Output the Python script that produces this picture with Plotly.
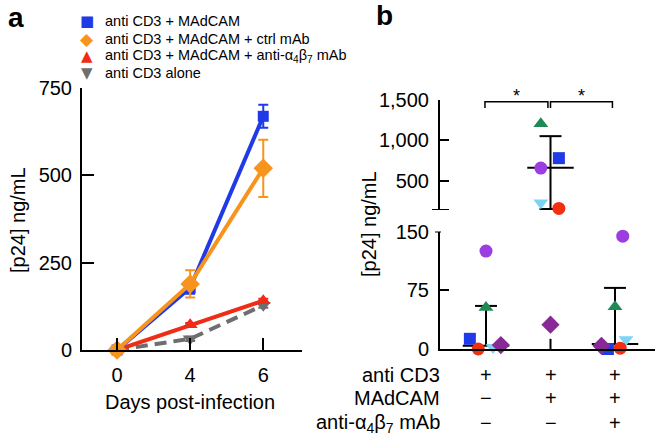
import plotly.graph_objects as go

W, H = 663, 446
FONT = "Liberation Sans, Arial, sans-serif"
SYMFONT = "DejaVu Sans"

# ---------------- data: panel a ----------------
days = ["0", "4", "6"]
series_names = [
    "anti CD3 + MAdCAM",
    "anti CD3 + MAdCAM + ctrl mAb",
    "anti CD3 + MAdCAM + anti-α<sub>4</sub>β<sub>7</sub> mAb",
    "anti CD3 alone",
]
blue_vals = [0, 178, 669]
blue_err = [0, 17, 33]
orange_vals = [0, 189, 520]
orange_err = [0, 39, 82]
red_vals = [0, 72, 141]
red_err = [0, 5, 6]
gray_vals = [0, 32, 128]
gray_err = [0, 6, 7]
a_yticks = [0, 250, 500, 750]

# ---------------- data: panel b ----------------
groups = [0, 1, 2]
donor_blue_sq = [13, 781, 0]
donor_green_tri = [53, 1206, 54]
donor_purple_circ = [125, 658, 144]
donor_red_circ = [0, 160, 1]
donor_lblue_tri = [2, 230, 12]
donor_diamond = [5, 31, 4]
group_center = [4, 662, 6.5]
group_hi = [55, 1053, 78]
group_lo = [None, 152, None]
group2_low_stub = [0, 13]
b_low_ticks = [0, 75, 150]
b_high_ticks = [500, 1000, 1500]
b_high_ticktext = ["500", "1,000", "1,500"]
row_labels = ["anti CD3", "MAdCAM", "anti-α<sub>4</sub>β<sub>7</sub> mAb"]
row_signs = [["+", "+", "+"], ["−", "+", "+"], ["−", "−", "+"]]
BREAK = 150  # values above go on the upper segment

# per-donor horizontal jitter (style)
jitter = {
    "blue": [-0.25, 0.13, -0.11],
    "green": [0.0, -0.15, 0.0],
    "purple": [0.0, -0.15, 0.12],
    "red": [-0.12, 0.13, 0.08],
    "lblue": [0.11, -0.15, 0.17],
    "diamond": [0.23, 0.0, -0.21],
}

C_BLUE = "#1f3ae6"
C_ORANGE = "#f7941d"
C_RED = "#f02c17"
C_GRAY = "#6e6e6e"

fig = go.Figure()

# ---------- panel a traces (drawn order: gray, red, blue, orange) ----------
specs_a = [
    (gray_vals, gray_err, C_GRAY, "triangle-down", 13, "12px,7px"),
    (red_vals, red_err, C_RED, "triangle-up", 13, "solid"),
    (blue_vals, blue_err, C_BLUE, "square", 11, "solid"),
    (orange_vals, orange_err, C_ORANGE, "diamond", 15, "solid"),
]
for vals, err, col, sym, sz, dash in specs_a:
    fig.add_trace(go.Scatter(
        x=days, y=vals, mode="lines+markers",
        line=dict(color=col, width=4, dash=dash),
        marker=dict(color=col, symbol=sym, size=sz),
        error_y=dict(type="data", array=err, color=col, thickness=2, width=5),
        cliponaxis=False, showlegend=False, xaxis="x", yaxis="y"))

# ---------- panel b summary lines ----------
HW, CAP = 0.36, 0.17
lowx, lowy, hix, hiy = [], [], [], []
def seg(xs, ys, x0, y0, x1, y1):
    xs += [x0, x1, None]
    ys += [y0, y1, None]
for g, c, hi, lo in zip(groups, group_center, group_hi, group_lo):
    tx, ty = (hix, hiy) if c > BREAK else (lowx, lowy)
    seg(tx, ty, g - HW, c, g + HW, c)
    seg(tx, ty, g, c, g, hi)
    seg(tx, ty, g - CAP, hi, g + CAP, hi)
    if lo is not None:
        seg(tx, ty, g, c, g, lo)
        seg(tx, ty, g - CAP, lo, g + CAP, lo)
seg(lowx, lowy, groups[1], group2_low_stub[0], groups[1], group2_low_stub[1])

fig.add_trace(go.Scatter(x=lowx, y=lowy, mode="lines", line=dict(color="black", width=2),
                         showlegend=False, xaxis="x2", yaxis="y2", cliponaxis=False))
fig.add_trace(go.Scatter(x=hix, y=hiy, mode="lines", line=dict(color="black", width=2),
                         showlegend=False, xaxis="x3", yaxis="y3", cliponaxis=False))

# ---------- panel b donor points ----------
donors = [
    ("blue", donor_blue_sq, C_BLUE, "square", 12),
    ("lblue", donor_lblue_tri, "#7dd3f3", "triangle-down", 13),
    ("diamond", donor_diamond, "#882a96", "diamond", 14),
    ("green", donor_green_tri, "#1f8a55", "triangle-up", 13),
    ("red", donor_red_circ, "#f03010", "circle", 13),
    ("purple", donor_purple_circ, "#9b3de0", "circle", 13),
]
for key, vals, col, sym, sz in donors:
    lx, ly, ux, uy = [], [], [], []
    for g, v, j in zip(groups, vals, jitter[key]):
        if v > BREAK:
            ux.append(g + j); uy.append(v)
        else:
            lx.append(g + j); ly.append(v)
    m = dict(color=col, symbol=sym, size=sz)
    if lx:
        fig.add_trace(go.Scatter(x=lx, y=ly, mode="markers", marker=m, showlegend=False,
                                 xaxis="x2", yaxis="y2", cliponaxis=False))
    if ux:
        fig.add_trace(go.Scatter(x=ux, y=uy, mode="markers", marker=m, showlegend=False,
                                 xaxis="x3", yaxis="y3", cliponaxis=False))

# ---------- layout ----------
def px_x(p): return p / W
def px_y(p): return 1 - p / H

axis_common = dict(showgrid=False, zeroline=False, showline=True, linecolor="black",
                   linewidth=2, tickcolor="black", tickwidth=2,
                   tickfont=dict(family=FONT, size=20, color="black"))

XR_B = [-0.713, 2.62]
fig.update_layout(
    width=W, height=H, margin=dict(l=0, r=0, t=0, b=0, autoexpand=False),
    paper_bgcolor="white", plot_bgcolor="white", showlegend=False,
    font=dict(family=FONT, color="black"),
    xaxis=dict(domain=[px_x(82), px_x(302)], type="category", range=[-0.48, 2.53],
               ticks="inside", ticklen=12, anchor="y", ticklabelstandoff=6, **axis_common),
    yaxis=dict(domain=[px_y(350), px_y(88)], range=[0, 750], tickvals=a_yticks,
               ticks="inside", ticklen=12, anchor="x", ticklabelstandoff=4, **axis_common),
    xaxis2=dict(domain=[px_x(440), px_x(655)], range=XR_B, showticklabels=False,
                ticks="", anchor="y2", **axis_common),
    yaxis2=dict(domain=[px_y(349), px_y(231.5)], range=[0, 150], tickvals=b_low_ticks,
                ticks="inside", ticklen=9, anchor="x2", ticklabelstandoff=5, **axis_common),
    xaxis3=dict(domain=[px_x(440), px_x(655)], range=XR_B, visible=False, anchor="y3",
                matches="x2"),
    yaxis3=dict(domain=[px_y(210), px_y(100)], range=[140, 1500], tickvals=b_high_ticks,
                ticktext=b_high_ticktext, ticks="inside", ticklen=9, anchor="x3",
                ticklabelstandoff=5, **axis_common),
)

shapes = [
    # break caps
    dict(type="line", xref="paper", yref="y3", x0=px_x(432), x1=px_x(449), y0=140, y1=140,
         line=dict(color="black", width=2)),
    dict(type="line", xref="paper", yref="y2", x0=px_x(435), x1=px_x(441), y0=150, y1=150,
         line=dict(color="black", width=2)),
]
# significance brackets
BR_Y, BR_T = 1479, 1401
brackets = [(-0.016, 0.96), (1.0, 1.96)]
for a0, a1 in brackets:
    shapes.append(dict(type="path", xref="x3", yref="y3",
                       path=f"M {a0},{BR_T} L {a0},{BR_Y} L {a1},{BR_Y} L {a1},{BR_T}",
                       line=dict(color="black", width=1.5)))
fig.update_layout(shapes=shapes)


def text_ann(x, y, text, size, xanchor="center", xref="paper", yref="paper",
             family=FONT, color="black", **kw):
    return dict(x=x, y=y, xref=xref, yref=yref, text=text, showarrow=False,
                xanchor=xanchor, yanchor=kw.pop("yanchor", "middle"),
                font=dict(family=family, size=size, color=color), **kw)


ann = []
for a0, a1 in brackets:
    ann.append(text_ann((a0 + a1) / 2, BR_Y, "*", 18, xref="x3", yref="y3",
                        yanchor="bottom", yshift=-6))
# legend (text-based keys)
leg_syms = [("■", C_BLUE, 15), ("◆", C_ORANGE, 17), ("▲", C_RED, 15), ("▼", C_GRAY, 15)]
leg_y = [21.5, 39, 56.5, 73]
for name, (sym, col, fs), ly in zip(series_names, leg_syms, leg_y):
    ann.append(text_ann(px_x(87), px_y(ly), sym, fs, family=SYMFONT, color=col))
    ann.append(text_ann(px_x(103), px_y(ly), name, 14.5, xanchor="left"))
# panel labels
ann.append(text_ann(px_x(16), px_y(17), "<b>a</b>", 28))
ann.append(text_ann(px_x(384), px_y(16), "<b>b</b>", 28))
# axis titles
ann.append(text_ann(px_x(18), px_y(220), "[p24] ng/mL", 20, textangle=-90))
ann.append(text_ann(px_x(369), px_y(224), "[p24] ng/mL", 20, textangle=-90))
ann.append(text_ann(px_x(190), px_y(402), "Days post-infection", 20))
# row labels and signs
row_y = [375, 398, 423]
for lab, signs, ry in zip(row_labels, row_signs, row_y):
    ann.append(text_ann(px_x(442), px_y(ry), lab, 20, xanchor="right"))
    for g, s in zip(groups, signs):
        ann.append(text_ann(g, px_y(ry), s, 20, xref="x2"))
fig.update_layout(annotations=ann)

fig.write_html(
    "out.html",
    config={"displayModeBar": False},
    post_script="document.body.style.margin='0px';document.body.style.padding='0px';",
)
